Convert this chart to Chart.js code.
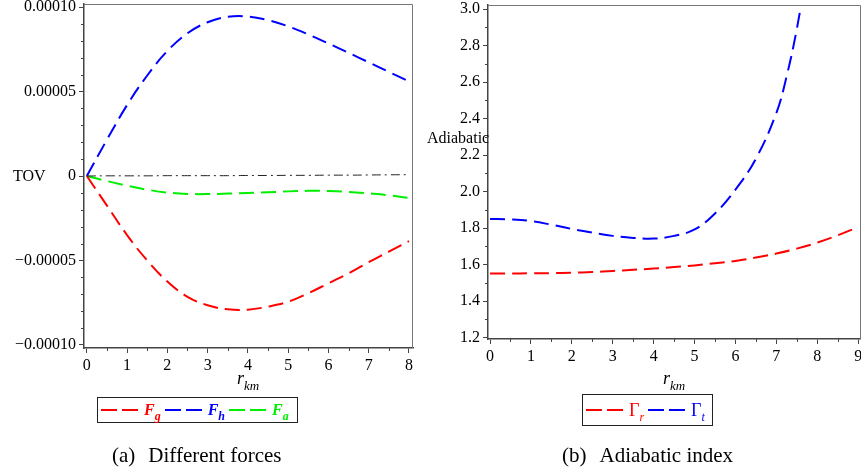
<!DOCTYPE html>
<html>
<head>
<meta charset="utf-8">
<script src="https://cdn.jsdelivr.net/npm/chart.js@4"></script>
<style>
  body { margin: 0; width: 861px; height: 476px; overflow: hidden; position: relative; background: #fff;
         font-family: "Liberation Serif", "Times New Roman", serif; color: #000; }
  canvas { position: absolute; }
  #forces { left: 0; top: -10px; }
  #adiabatic { left: 425px; top: -10px; }
  .txt { position: absolute; white-space: nowrap; font-size: 16px; line-height: 18px; }
  .rkm { position: absolute; white-space: nowrap; font-style: italic; font-size: 18px; line-height: 18px; }
  .rkm sub { font-size: 13px; vertical-align: -6px; line-height: 0; }
  .legend { position: absolute; box-sizing: border-box; border: 1.5px solid #222; display: flex; align-items: center; padding: 0 3px; }
  .sample { display: inline-flex; gap: 5px; margin-right: 6px; }
  .sample i { display: block; width: 16px; height: 2.5px; }
  .key { font-size: 17px; line-height: 18px; margin-right: 4px; }
  .key sub { font-size: 12px; vertical-align: -5px; line-height: 0; font-style: italic; }
  .caption { position: absolute; white-space: nowrap; font-size: 21px; line-height: 24px; }
  .caption span { margin-left: 13px; }
</style>
</head>
<body>
<canvas id="forces" width="425" height="388"></canvas>
<canvas id="adiabatic" width="456" height="379"></canvas>

<div class="txt" style="left:13px;top:167px;">TOV</div>
<div class="txt" style="left:427px;top:129px;">Adiabatic</div>
<div class="rkm" style="left:237px;top:369px;">r<sub>km</sub></div>
<div class="rkm" style="left:663px;top:369px;">r<sub>km</sub></div>
<div class="legend" id="leg1" style="left:97px;top:397px;width:201px;height:26px;"></div>
<div class="legend" id="leg2" style="left:582px;top:394px;width:131px;height:32px;"></div>
<div class="caption" style="left:112px;top:443px;">(a)<span>Different forces</span></div>
<div class="caption" style="left:562px;top:443px;">(b)<span>Adiabatic index</span></div>

<script>
// ---- (a) different forces ----
const rF = [0, 0.5, 1, 1.5, 2, 2.5, 3, 3.5, 4, 4.5, 5, 5.5, 6, 6.5, 7, 7.5, 8];
const Fg = [0, -1.75e-5, -3.5e-5, -5.0e-5, -6.25e-5, -7.15e-5, -7.65e-5, -7.89e-5, -7.91e-5,
            -7.73e-5, -7.44e-5, -6.94e-5, -6.35e-5, -5.76e-5, -5.1e-5, -4.48e-5, -3.85e-5];
const Fh = [0, 2.15e-5, 4.2e-5, 5.95e-5, 7.4e-5, 8.45e-5, 9.1e-5, 9.42e-5, 9.44e-5,
            9.22e-5, 8.86e-5, 8.38e-5, 7.84e-5, 7.29e-5, 6.73e-5, 6.16e-5, 5.6e-5];
const Fa = [0, -0.3e-5, -0.57e-5, -0.81e-5, -0.98e-5, -1.06e-5, -1.07e-5, -1.04e-5, -1.0e-5,
            -0.96e-5, -0.91e-5, -0.88e-5, -0.89e-5, -0.94e-5, -1.03e-5, -1.14e-5, -1.3e-5];
const TOV = [0, 0.01e-5, 0.01e-5, 0.01e-5, 0.02e-5, 0.02e-5, 0.02e-5, 0.02e-5, 0.03e-5,
             0.03e-5, 0.04e-5, 0.04e-5, 0.05e-5, 0.05e-5, 0.06e-5, 0.07e-5, 0.08e-5];
const forceNames = [["F", "g"], ["F", "h"], ["F", "a"]];
const forceColors = ["#ff0000", "#0000ff", "#00ee00"];

const xTicksF = [0, 1, 2, 3, 4, 5, 6, 7, 8];
const xMinorF = [0.5, 1.5, 2.5, 3.5, 4.5, 5.5, 6.5, 7.5];
const yTicksF = [-0.0001, -0.00005, 0, 0.00005, 0.0001];
const yTickLabelsF = ["\u22120.00010", "\u22120.00005", "0", "0.00005", "0.00010"];
const yMinorF = [-9e-5, -8e-5, -7e-5, -6e-5, -4e-5, -3e-5, -2e-5, -1e-5,
                 1e-5, 2e-5, 3e-5, 4e-5, 6e-5, 7e-5, 8e-5, 9e-5];

// ---- (b) adiabatic index ----
const rGr = [0, 0.5, 1, 1.5, 2, 2.5, 3, 3.5, 4, 4.5, 5, 5.5, 6, 6.5, 7, 7.5, 8, 8.5, 9];
const Gr = [1.551, 1.551, 1.552, 1.553, 1.555, 1.559, 1.565, 1.571, 1.578, 1.586, 1.595,
            1.607, 1.62, 1.638, 1.66, 1.687, 1.72, 1.76, 1.805];
const rGt = [0, 0.5, 1, 1.5, 2, 2.5, 3, 3.5, 4, 4.5, 5, 5.5, 6, 6.5, 7, 7.25, 7.5, 7.75];
const Gt = [1.85, 1.847, 1.838, 1.818, 1.795, 1.775, 1.757, 1.746, 1.742, 1.757, 1.792,
            1.88, 2.01, 2.18, 2.43, 2.63, 2.89, 3.22];
const gammaNames = [["\u0393", "r"], ["\u0393", "t"]];
const gammaColors = ["#ff0000", "#0000ff"];

const xTicksG = [0, 1, 2, 3, 4, 5, 6, 7, 8, 9];
const xMinorG = [0.5, 1.5, 2.5, 3.5, 4.5, 5.5, 6.5, 7.5, 8.5];
const yTicksG = [1.2, 1.4, 1.6, 1.8, 2.0, 2.2, 2.4, 2.6, 2.8, 3.0];
const yMinorG = [1.3, 1.5, 1.7, 1.9, 2.1, 2.3, 2.5, 2.7, 2.9];

const tickFont = { family: "'Liberation Serif', 'Times New Roman', serif", size: 16 };
const axisColor = "#444";

function pts(xs, ys) {
  return xs.map((x, i) => ({ x: x, y: ys[i] }));
}

function line(data, color, dash, width) {
  return {
    data: data,
    borderColor: color,
    borderWidth: width || 2,
    borderDash: dash || [15, 7],
    pointRadius: 0,
    fill: false,
    tension: 0.4,
  };
}

// minor ticks + top/right frame of the plot box
const boxAndMinor = {
  id: "boxAndMinor",
  afterDraw(chart, args, opts) {
    const ctx = chart.ctx;
    const a = chart.chartArea;
    const sx = chart.scales.x, sy = chart.scales.y;
    ctx.save();
    ctx.strokeStyle = axisColor;
    ctx.lineWidth = 1;
    ctx.beginPath();
    opts.x.forEach((v) => {
      const px = Math.round(sx.getPixelForValue(v)) + 0.5;
      ctx.moveTo(px, a.bottom);
      ctx.lineTo(px, a.bottom + 3);
    });
    opts.y.forEach((v) => {
      const py = Math.round(sy.getPixelForValue(v)) + 0.5;
      ctx.moveTo(a.left, py);
      ctx.lineTo(a.left - 3, py);
    });
    ctx.stroke();
    ctx.strokeStyle = "#777";
    ctx.beginPath();
    ctx.moveTo(a.left, a.top + 0.5);
    ctx.lineTo(Math.round(a.right) - 0.5, a.top + 0.5);
    ctx.lineTo(Math.round(a.right) - 0.5, a.bottom);
    ctx.stroke();
    ctx.restore();
  },
};

function axis(min, max, ticks, labels, fit) {
  return {
    type: "linear",
    min: min,
    max: max,
    afterBuildTicks: (s) => { s.ticks = ticks.map((v) => ({ value: v })); },
    afterFit: fit,
    ticks: {
      autoSkip: false,
      maxRotation: 0,
      padding: 3,
      color: "#000",
      font: tickFont,
      callback: (v, i) => labels[i],
    },
    grid: { drawOnChartArea: false, tickLength: 5, tickColor: axisColor, tickWidth: 1 },
    border: { color: axisColor, width: 1.5 },
  };
}

new Chart(document.getElementById("forces"), {
  type: "line",
  data: {
    datasets: [
      line(pts(rF, TOV), "#222", [9, 4, 2, 4], 1),
      line(pts(rF, Fg), forceColors[0]),
      line(pts(rF, Fh), forceColors[1]),
      line(pts(rF, Fa), forceColors[2]),
    ],
  },
  options: {
    responsive: false,
    animation: false,
    layout: { padding: { top: 14, right: 12, left: 0, bottom: 0 } },
    plugins: {
      legend: { display: false },
      tooltip: { enabled: false },
      boxAndMinor: { x: xMinorF, y: yMinorF },
    },
    scales: {
      x: axis(-0.07, 8.1, xTicksF, xTicksF.map(String), (s) => { s.height = 30; }),
      y: axis(-0.0001018, 0.0001018, yTicksF, yTickLabelsF, (s) => { s.width = 84; }),
    },
  },
  plugins: [boxAndMinor],
});

new Chart(document.getElementById("adiabatic"), {
  type: "line",
  data: {
    datasets: [
      line(pts(rGr, Gr), gammaColors[0]),
      line(pts(rGt, Gt), gammaColors[1]),
    ],
  },
  options: {
    responsive: false,
    animation: false,
    layout: { padding: { top: 15, right: 20, left: 0, bottom: 0 } },
    plugins: {
      legend: { display: false },
      tooltip: { enabled: false },
      boxAndMinor: { x: xMinorG, y: yMinorG },
    },
    scales: {
      x: axis(-0.05, 9.07, xTicksG, xTicksG.map(String), (s) => { s.height = 30; }),
      y: axis(1.192, 3.022, yTicksG, yTicksG.map((v) => v.toFixed(1)), (s) => { s.width = 63; }),
    },
  },
  plugins: [boxAndMinor],
});

// legends: two dashes then the label with its subscript
function fillLegend(id, names, colors, keyStyle) {
  const box = document.getElementById(id);
  names.forEach((n, i) => {
    const sample = document.createElement("span");
    sample.className = "sample";
    sample.innerHTML = `<i style="background:${colors[i]}"></i><i style="background:${colors[i]}"></i>`;
    const key = document.createElement("span");
    key.className = "key";
    key.style.color = colors[i];
    key.style.cssText += keyStyle;
    key.innerHTML = `${n[0]}<sub>${n[1]}</sub>`;
    box.appendChild(sample);
    box.appendChild(key);
  });
}

fillLegend("leg1", forceNames, forceColors, "font-style:italic;font-weight:bold;font-size:16px;");
fillLegend("leg2", gammaNames, gammaColors, "font-size:18px;");
</script>
</body>
</html>
